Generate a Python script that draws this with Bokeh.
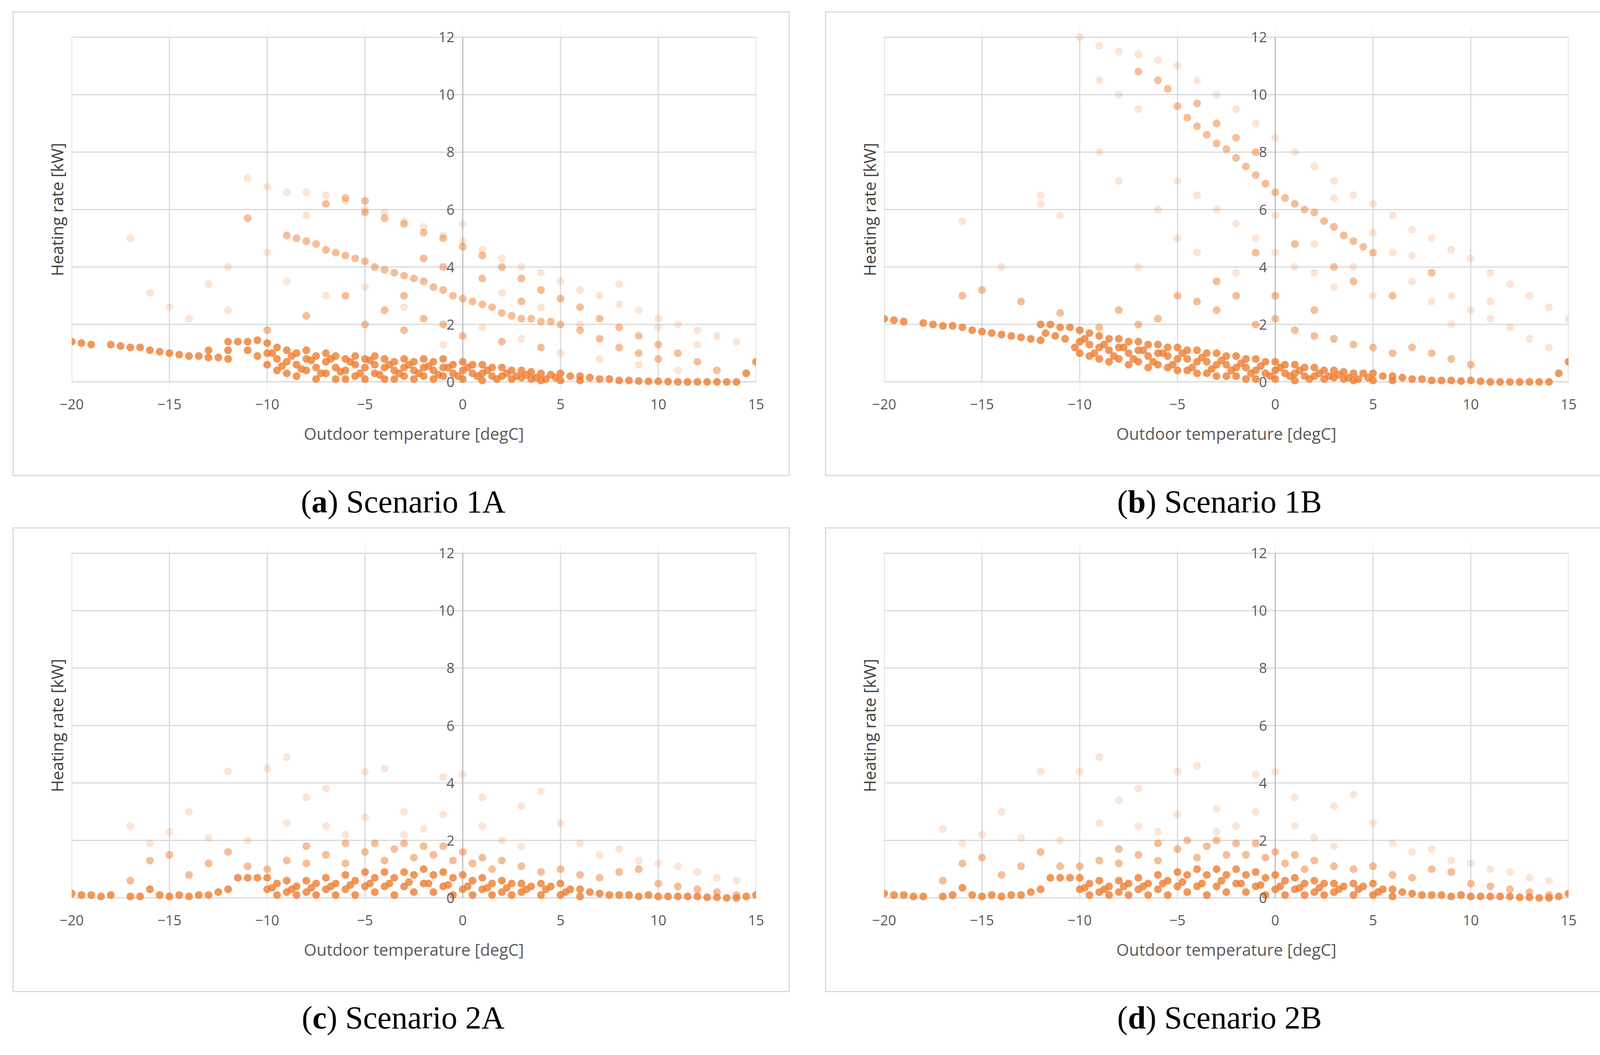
from bokeh.plotting import figure
from bokeh.models import LinearAxis, FixedTicker, Grid, Div
from bokeh.layouts import column, row
from bokeh.embed import file_html
from bokeh.resources import INLINE

x_ticks = [-20, -15, -10, -5, 0, 5, 10, 15]
y_ticks = [0, 2, 4, 6, 8, 10, 12]
captions = ["(<b>a</b>) Scenario 1A", "(<b>b</b>) Scenario 1B", "(<b>c</b>) Scenario 2A", "(<b>d</b>) Scenario 2B"]

A_dense = [(-20,1.4),(-19.5,1.35),(-19,1.3),(-18,1.3),(-17.5,1.25),(-17,1.2),(-16.5,1.2),(-16,1.1),(-15.5,1.05),(-15,1.0),(-14.5,0.95),(-14,0.9),(-13.5,0.9),(-13,0.85),(-12.5,0.85),(-12,0.8),(-12,1.4),(-11.5,1.4),(-11,1.4),(-10.5,1.45),(-10,1.35),(-10,1.0),(-10,0.6),(-9.5,1.2),(-9.5,0.8),(-9.5,0.4),(-9,1.1),(-9,0.7),(-9,0.3),(-8.5,1.0),(-8.5,0.6),(-8.5,0.2),(-8,1.1),(-8,0.8),(-8,0.4),(-7.5,0.9),(-7.5,0.5),(-7.5,0.1),(-7,1.0),(-7,0.7),(-7,0.3),(-6.5,0.9),(-6.5,0.5),(-6.5,0.1),(-6,0.8),(-6,0.4),(-6,0.1),(-5.5,0.9),(-5.5,0.6),(-5.5,0.2),(-5,0.8),(-5,0.5),(-5,0.1),(-4.5,0.9),(-4.5,0.6),(-4.5,0.3),(-4,0.8),(-4,0.5),(-4,0.1),(-3.5,0.7),(-3.5,0.4),(-3.5,0.1),(-3,0.8),(-3,0.5),(-3,0.2),(-2.5,0.7),(-2.5,0.4),(-2.5,0.1),(-2,0.8),(-2,0.5),(-2,0.2),(-1.5,0.7),(-1.5,0.4),(-1.5,0.1),(-1,0.8),(-1,0.5),(-1,0.2),(-0.5,0.6),(-0.5,0.3),(0,0.7),(0,0.4),(0,0.1),(0.5,0.6),(0.5,0.3),(1,0.6),(1,0.3),(1,0.05),(1.5,0.5),(1.5,0.2),(2,0.5),(2,0.2),(2.5,0.4),(2.5,0.1),(3,0.4),(3,0.15),(3.5,0.35),(3.5,0.1),(4,0.3),(4,0.05),(4.5,0.25),(5,0.3),(5,0.05),(5.5,0.2),(6,0.2),(6,0.05),(6.5,0.15),(7,0.1),(7.5,0.1),(8,0.05),(8.5,0.05),(9,0.03),(9.5,0.02),(10,0.02),(10.5,0.01),(11,0),(11.5,0),(12,0),(12.5,0),(13,0),(13.5,0),(14,0),(14.5,0.3),(15,0.7),
           (-9.75,1.0),(-9.25,0.55),(-8.75,0.9),(-8.25,0.45),(-7.75,0.75),(-7.25,0.3),(-6.75,0.8),(-6.25,0.35),(-5.75,0.7),(-5.25,0.3),(-4.75,0.75),(-4.25,0.25),(-3.75,0.6),(-3.25,0.3),(-2.75,0.6),(-2.25,0.3),(-1.75,0.55),(-1.25,0.25),(-0.75,0.5),(-0.25,0.2),(0.25,0.5),(0.75,0.2),(1.25,0.4),(1.75,0.1),(2.25,0.3),(2.75,0.2),(3.25,0.25),(3.75,0.15),(4.25,0.1),(4.75,0.15),(-11,1.1),(-10.5,0.9),(-12,1.1),(-13,1.1)]
A_mid = [(-7.5,4.8),(-7,4.6),(-6.5,4.5),(-6,4.4),(-5.5,4.3),(-5,4.2),(-4.5,4.0),(-4,3.9),(-3.5,3.8),(-3,3.7),(-2.5,3.6),(-2,3.5),(-1.5,3.3),(-1,3.2),(-0.5,3.0),(0,2.9),(0.5,2.8),(1,2.7),(1.5,2.6),(2,2.4),(2.5,2.3),(3,2.2),(3.5,2.2),(4,2.1),(4.5,2.1),(5,2.0),(-9,5.1),(-8.5,5.0),(-8,4.9),(-5,5.9),(-4,5.7),(-3,5.5),(-2,5.2),(-1,5.0),(0,4.7),(1,4.4),(2,4.0),(3,3.6),(4,3.2),(5,2.9),(6,2.6),(7,2.2),(8,1.9),(9,1.6),(10,1.3),(11,1.0),(12,0.7),(13,0.4),(6,1.8),(7,1.5),(8,1.2),(9,1.0),(10,0.8),(-5,2.0),(-3,1.8),(-1,2.0),(-4,2.5),(-2,2.2),(0,1.6),(2,1.4),(4,1.2),(-2,4.3),(-1,4.0),(1,3.6),(-6,3.0),(-8,2.3),(-10,1.8),(-3,3.0),(3,2.8),(-11,5.7),(-7,6.2),(-6,6.4),(-5,6.3)]
A_faint = [(-11,7.1),(-10,6.8),(-9,6.6),(-8,6.6),(-7,6.5),(-6,6.3),(-5,6.0),(-4,5.9),(-3,5.6),(-2,5.4),(-1,5.1),(0,4.9),(1,4.6),(2,4.3),(3,4.0),(4,3.8),(5,3.5),(6,3.2),(7,3.0),(8,2.7),(9,2.5),(10,2.2),(11,2.0),(12,1.8),(13,1.6),(14,1.4),(-15,2.6),(-16,3.1),(-13,3.4),(-12,4.0),(-14,2.2),(-9,3.5),(-7,3.0),(-5,3.3),(-3,2.6),(-1,1.3),(1,1.9),(3,1.5),(5,1.0),(7,0.8),(9,0.6),(11,0.4),(-17,5.0),(-12,2.5),(-10,4.5),(-8,5.8),(0,5.5),(2,3.1),(4,2.6),(6,2.0),(8,3.4),(10,1.9),(12,1.3)]

B_dense = [(-20,2.2),(-19.5,2.15),(-19,2.1),(-18,2.05),(-17.5,2.0),(-17,1.95),(-16.5,1.95),(-16,1.9),(-15.5,1.8),(-15,1.75),(-14.5,1.7),(-14,1.65),(-13.5,1.6),(-13,1.55),(-12.5,1.5),(-12,1.45),(-12,2.0),(-11.5,2.0),(-11,1.9),(-10.5,1.9),(-10,1.8),(-10,1.4),(-10,1.0),(-9.5,1.7),(-9.5,1.3),(-9.5,0.9),(-9,1.6),(-9,1.2),(-9,0.8),(-8.5,1.5),(-8.5,1.1),(-8.5,0.7),(-8,1.5),(-8,1.2),(-8,0.8),(-7.5,1.4),(-7.5,1.0),(-7.5,0.6),(-7,1.4),(-7,1.1),(-7,0.7),(-6.5,1.3),(-6.5,0.9),(-6.5,0.5),(-6,1.3),(-6,1.0),(-6,0.6),(-5.5,1.2),(-5.5,0.9),(-5.5,0.5),(-5,1.2),(-5,0.8),(-5,0.4),(-4.5,1.1),(-4.5,0.8),(-4.5,0.4),(-4,1.1),(-4,0.7),(-4,0.3),(-3.5,1.0),(-3.5,0.7),(-3.5,0.3),(-3,1.0),(-3,0.6),(-3,0.2),(-2.5,0.9),(-2.5,0.6),(-2.5,0.2),(-2,0.9),(-2,0.5),(-2,0.2),(-1.5,0.8),(-1.5,0.5),(-1.5,0.1),(-1,0.8),(-1,0.4),(-1,0.1),(-0.5,0.7),(-0.5,0.3),(0,0.7),(0,0.4),(0,0.1),(0.5,0.6),(0.5,0.3),(1,0.6),(1,0.3),(1,0.05),(1.5,0.5),(1.5,0.2),(2,0.5),(2,0.2),(2.5,0.4),(2.5,0.1),(3,0.4),(3,0.15),(3.5,0.35),(3.5,0.1),(4,0.3),(4,0.05),(4.5,0.3),(5,0.3),(5,0.05),(5.5,0.2),(6,0.2),(6,0.05),(6.5,0.15),(7,0.1),(7.5,0.1),(8,0.05),(8.5,0.05),(9,0.05),(9.5,0.03),(10,0.05),(10.5,0.02),(11,0),(11.5,0),(12,0),(12.5,0),(13,0),(13.5,0),(14,0),(14.5,0.3),(15,0.7),
           (-11.75,1.7),(-11.25,1.6),(-10.75,1.5),(-10.25,1.2),(-9.75,1.5),(-9.25,1.0),(-8.75,1.3),(-8.25,0.9),(-7.75,1.2),(-7.25,0.8),(-6.75,1.1),(-6.25,0.7),(-5.75,1.0),(-5.25,0.6),(-4.75,1.0),(-4.25,0.5),(-3.75,0.85),(-3.25,0.45),(-2.75,0.75),(-2.25,0.4),(-1.75,0.65),(-1.25,0.3),(-0.75,0.55),(-0.25,0.2),(0.25,0.5),(0.75,0.2),(1.25,0.4),(1.75,0.1),(2.25,0.3),(2.75,0.2),(3.25,0.25),(3.75,0.15),(4.25,0.1),(4.75,0.15)]
B_mid = [(-6,10.5),(-5.5,10.2),(-5,9.6),(-4.5,9.2),(-4,8.9),(-3.5,8.6),(-3,8.3),(-2.5,8.1),(-2,7.8),(-1.5,7.5),(-1,7.2),(-0.5,6.9),(0,6.6),(0.5,6.4),(1,6.2),(1.5,6.0),(2,5.9),(2.5,5.6),(3,5.4),(3.5,5.1),(4,4.9),(4.5,4.7),(5,4.5),(-7,10.8),(-4,9.7),(-3,9.0),(-2,8.5),(-1,8.0),(-5,3.0),(-4,2.8),(-3,2.5),(-2,3.0),(-1,2.0),(0,2.2),(1,1.8),(2,1.6),(3,1.5),(4,1.3),(5,1.2),(6,1.0),(7,1.2),(8,1.0),(9,0.8),(10,0.6),(-6,2.2),(-8,2.5),(-11,2.4),(-13,2.8),(-15,3.2),(-16,3.0),(-3,3.5),(0,3.0),(2,2.5),(4,3.5),(6,3.0),(8,3.8),(1,4.8),(3,4.0),(-1,4.5),(-9,1.9),(-7,2.0)]
B_faint = [(-10,12),(-9,11.7),(-8,11.5),(-7,11.4),(-6,11.2),(-9,10.5),(-8,10.0),(-7,9.5),(-5,11.0),(-4,10.5),(-3,10.0),(-2,9.5),(-1,9.0),(0,8.5),(1,8.0),(2,7.5),(3,7.0),(4,6.5),(5,6.2),(6,5.8),(7,5.3),(8,5.0),(9,4.6),(10,4.3),(11,3.8),(12,3.4),(13,3.0),(14,2.6),(15,2.2),(-5,7.0),(-4,6.5),(-3,6.0),(-2,5.5),(-1,5.0),(0,4.5),(1,4.0),(2,3.8),(3,3.3),(4,4.0),(5,3.0),(6,4.5),(7,3.5),(8,2.8),(9,3.0),(10,2.5),(11,2.2),(12,1.9),(13,1.5),(14,1.2),(-12,6.2),(-11,5.8),(-12,6.5),(-16,5.6),(-14,4.0),(-6,6.0),(-4,4.5),(-2,3.8),(-7,4.0),(-5,5.0),(0,5.8),(2,4.8),(3,6.4),(5,5.2),(7,4.4),(9,2.0),(11,2.8),(-9,8.0),(-8,7.0)]

C_dense = [(-20,0.15),(-19.5,0.1),(-19,0.1),(-18.5,0.05),(-18,0.1),(-17,0.05),(-16.5,0.05),(-16,0.3),(-15.5,0.1),(-15,0.05),(-14.5,0.1),(-14,0.05),(-13.5,0.1),(-13,0.1),(-12.5,0.2),(-12,0.3),(-11.5,0.7),(-11,0.7),(-10.5,0.7),(-10,0.7),(-10,0.3),(-9.5,0.5),(-9.5,0.1),(-9,0.6),(-9,0.2),(-8.5,0.4),(-8.5,0.1),(-8,0.6),(-8,0.2),(-7.5,0.5),(-7.5,0.1),(-7,0.7),(-7,0.3),(-6.5,0.5),(-6.5,0.1),(-6,0.8),(-6,0.3),(-5.5,0.6),(-5.5,0.1),(-5,0.9),(-5,0.4),(-4.5,0.7),(-4.5,0.2),(-4,0.9),(-4,0.4),(-3.5,0.7),(-3.5,0.1),(-3,0.9),(-3,0.4),(-2.5,0.8),(-2.5,0.2),(-2,1.0),(-2,0.5),(-1.5,0.8),(-1.5,0.2),(-1,0.9),(-1,0.4),(-0.5,0.7),(-0.5,0.1),(0,0.8),(0,0.3),(0.5,0.6),(0.5,0.1),(1,0.7),(1,0.3),(1.5,0.5),(1.5,0.1),(2,0.6),(2,0.2),(2.5,0.5),(2.5,0.1),(3,0.5),(3,0.2),(3.5,0.4),(4,0.5),(4,0.1),(4.5,0.4),(5,0.5),(5,0.1),(5.5,0.3),(6,0.3),(6,0.05),(6.5,0.2),(7,0.15),(7.5,0.1),(8,0.1),(8.5,0.1),(9,0.05),(9.5,0.1),(10,0.05),(10.5,0.05),(11,0.05),(11.5,0.05),(12,0.05),(12.5,0.02),(13,0.02),(13.5,0),(14,0),(14.5,0.05),(15,0.1),
           (-9.75,0.35),(-8.75,0.3),(-7.75,0.35),(-6.75,0.4),(-5.75,0.45),(-4.75,0.5),(-3.75,0.5),(-2.75,0.55),(-1.75,0.5),(-0.75,0.45),(0.25,0.4),(1.25,0.35),(2.25,0.35),(3.25,0.3),(4.25,0.3),(5.25,0.2)]
C_mid = [(-16,1.3),(-15,1.5),(-13,1.2),(-12,1.6),(-10,1.0),(-9,1.3),(-8,1.8),(-7,1.5),(-6,1.9),(-5,1.6),(-4.5,1.9),(-4,1.3),(-3.5,1.7),(-3,1.9),(-2.5,1.4),(-2,1.8),(-1.5,1.5),(-1,1.8),(-0.5,1.3),(0,1.6),(0.5,1.2),(1,1.4),(1.5,1.0),(2,1.3),(3,1.1),(4,0.9),(5,1.0),(6,0.8),(7,0.7),(8,0.9),(9,1.0),(10,0.5),(11,0.4),(12,0.3),(13,0.2),(14,0.1),(-11,1.1),(-14,0.8),(-17,0.6),(-8,1.2),(-6,1.2)]
C_faint = [(-17,2.5),(-15,2.3),(-14,3.0),(-12,4.4),(-11,2.0),(-10,4.5),(-9,4.9),(-8,3.5),(-7,2.5),(-6,2.2),(-5,4.4),(-4,4.5),(-3,3.0),(-2,2.4),(-1,4.2),(0,4.3),(1,2.5),(2,2.0),(3,1.8),(4,3.7),(5,2.6),(6,1.9),(7,1.5),(8,1.7),(9,1.3),(10,1.2),(11,1.1),(12,0.9),(13,0.7),(14,0.6),(-13,2.1),(-16,1.9),(-9,2.6),(-5,2.8),(-1,2.9),(3,3.2),(-7,3.8),(-3,2.2),(1,3.5)]

D_dense = [(-20,0.15),(-19.5,0.1),(-19,0.1),(-18.5,0.05),(-18,0.05),(-17,0.05),(-16.5,0.1),(-16,0.35),(-15.5,0.1),(-15,0.05),(-14.5,0.1),(-14,0.05),(-13.5,0.1),(-13,0.1),(-12.5,0.2),(-12,0.3),(-11.5,0.7),(-11,0.7),(-10.5,0.7),(-10,0.7),(-10,0.3),(-9.5,0.5),(-9.5,0.1),(-9,0.6),(-9,0.2),(-8.5,0.4),(-8.5,0.1),(-8,0.6),(-8,0.2),(-7.5,0.5),(-7.5,0.1),(-7,0.7),(-7,0.3),(-6.5,0.5),(-6.5,0.1),(-6,0.8),(-6,0.3),(-5.5,0.6),(-5.5,0.1),(-5,0.9),(-5,0.4),(-4.5,0.8),(-4.5,0.2),(-4,1.0),(-4,0.4),(-3.5,0.8),(-3.5,0.1),(-3,1.0),(-3,0.4),(-2.5,0.8),(-2.5,0.2),(-2,1.0),(-2,0.5),(-1.5,0.8),(-1.5,0.2),(-1,0.9),(-1,0.4),(-0.5,0.7),(-0.5,0.1),(0,0.8),(0,0.3),(0.5,0.6),(0.5,0.1),(1,0.7),(1,0.3),(1.5,0.5),(1.5,0.1),(2,0.6),(2,0.2),(2.5,0.5),(2.5,0.1),(3,0.5),(3,0.2),(3.5,0.4),(4,0.5),(4,0.1),(4.5,0.4),(5,0.5),(5,0.1),(5.5,0.3),(6,0.3),(6,0.05),(6.5,0.2),(7,0.15),(7.5,0.1),(8,0.1),(8.5,0.1),(9,0.05),(9.5,0.1),(10,0.05),(10.5,0.05),(11,0.05),(11.5,0.05),(12,0.05),(12.5,0.02),(13,0.02),(13.5,0),(14,0),(14.5,0.05),(15,0.15),
           (-9.75,0.35),(-8.75,0.3),(-7.75,0.4),(-6.75,0.4),(-5.75,0.5),(-4.75,0.55),(-3.75,0.5),(-2.75,0.6),(-1.75,0.5),(-0.75,0.45),(0.25,0.4),(1.25,0.35),(2.25,0.35),(3.25,0.3),(4.25,0.3),(5.25,0.2)]
D_mid = [(-16,1.2),(-15,1.4),(-13,1.1),(-12,1.6),(-10,1.1),(-9,1.3),(-8,1.7),(-7,1.5),(-6,1.9),(-5,1.7),(-4.5,2.0),(-4,1.4),(-3.5,1.8),(-3,2.0),(-2.5,1.5),(-2,1.9),(-1.5,1.5),(-1,1.9),(-0.5,1.4),(0,1.6),(0.5,1.2),(1,1.5),(1.5,1.0),(2,1.3),(3,1.1),(4,1.0),(5,1.1),(6,0.8),(7,0.7),(8,1.0),(9,0.9),(10,0.5),(11,0.4),(12,0.3),(13,0.2),(14,0.1),(-11,1.1),(-14,0.8),(-17,0.6),(-8,1.2),(-6,1.3)]
D_faint = [(-17,2.4),(-15,2.2),(-14,3.0),(-12,4.4),(-11,2.0),(-10,4.4),(-9,4.9),(-8,3.4),(-7,2.5),(-6,2.3),(-5,4.4),(-4,4.6),(-3,3.1),(-2,2.5),(-1,4.3),(0,4.4),(1,2.5),(2,2.1),(3,1.8),(4,3.6),(5,2.6),(6,1.9),(7,1.6),(8,1.7),(9,1.3),(10,1.2),(11,1.0),(12,0.9),(13,0.7),(14,0.6),(-13,2.1),(-16,1.9),(-9,2.6),(-5,2.9),(-1,3.0),(3,3.2),(-7,3.8),(-3,2.3),(1,3.5)]

W, H = 1990, 1190
ORANGE = "#ED7D31"
FONT = "Open Sans"
PAD = 0.35


def panel(dense, mid, faint):
    p = figure(width=W, height=H, x_range=(-20, 15), y_range=(y_ticks[0] - PAD, y_ticks[-1] + PAD),
               output_backend="svg", toolbar_location=None,
               x_axis_location=None, y_axis_location=None,
               min_border_left=148, min_border_right=90, min_border_top=37, min_border_bottom=219,
               outline_line_color=None, background_fill_color="white",
               styles={"border": "3px solid #d9d9d9", "box-sizing": "border-box"})
    p.add_layout(Grid(dimension=1, ticker=FixedTicker(ticks=y_ticks), grid_line_color="#d9d9d9", grid_line_width=3))
    p.segment(x0=x_ticks, y0=[y_ticks[0]] * len(x_ticks), x1=x_ticks, y1=[y_ticks[-1]] * len(x_ticks),
              line_color="#d9d9d9", line_width=3)
    p.segment(x0=[0], y0=[y_ticks[0]], x1=[0], y1=[y_ticks[-1]], line_color="#bfbfbf", line_width=3)
    for pts, a in ((faint, 0.2), (mid, 0.5), (dense, 0.8)):
        p.scatter([q[0] for q in pts], [q[1] for q in pts], size=20, fill_color=ORANGE, fill_alpha=a, line_color=None)
    xax = LinearAxis(ticker=FixedTicker(ticks=x_ticks), axis_label="Outdoor temperature [degC]",
                     axis_line_color=None, major_tick_line_color=None, minor_tick_line_color=None,
                     major_label_text_font=FONT, major_label_text_font_size="36px", major_label_text_color="#595959",
                     major_label_standoff=12, axis_label_standoff=30,
                     axis_label_text_font=FONT, axis_label_text_font_size="42px", axis_label_text_font_style="normal",
                     axis_label_text_color="#595959")
    p.add_layout(xax, "below")
    ylab = LinearAxis(ticker=FixedTicker(ticks=[]), axis_label="Heating rate [kW]",
                      axis_line_color=None, major_tick_line_color=None, minor_tick_line_color=None,
                      major_label_text_font_size="0px", axis_label_standoff=10,
                      axis_label_text_font=FONT, axis_label_text_font_size="42px", axis_label_text_font_style="normal",
                      axis_label_text_color="#404040")
    p.add_layout(ylab, "left")
    yax = LinearAxis(ticker=FixedTicker(ticks=y_ticks), fixed_location=0,
                     axis_line_color=None,
                     major_tick_line_color=None, minor_tick_line_color=None,
                     major_label_text_font=FONT, major_label_text_font_size="36px", major_label_text_color="#595959",
                     major_label_standoff=15)
    p.add_layout(yax, "left")
    return p


def cap(t):
    return Div(text=t, width=W, height=121,
               styles={"font-family": "Liberation Serif", "font-size": "82px", "text-align": "center",
                       "line-height": "121px", "width": f"{W}px", "color": "black"})


pa = panel(A_dense, A_mid, A_faint)
pb = panel(B_dense, B_mid, B_faint)
pc = panel(C_dense, C_mid, C_faint)
pd = panel(D_dense, D_mid, D_faint)

layout = column(row(pa, pb, spacing=90), row(cap(captions[0]), cap(captions[1]), spacing=90),
                row(pc, pd, spacing=90), row(cap(captions[2]), cap(captions[3]), spacing=90),
                margin=(29, 0, 0, 32))

open("out.html", "w").write(file_html(layout, INLINE))
